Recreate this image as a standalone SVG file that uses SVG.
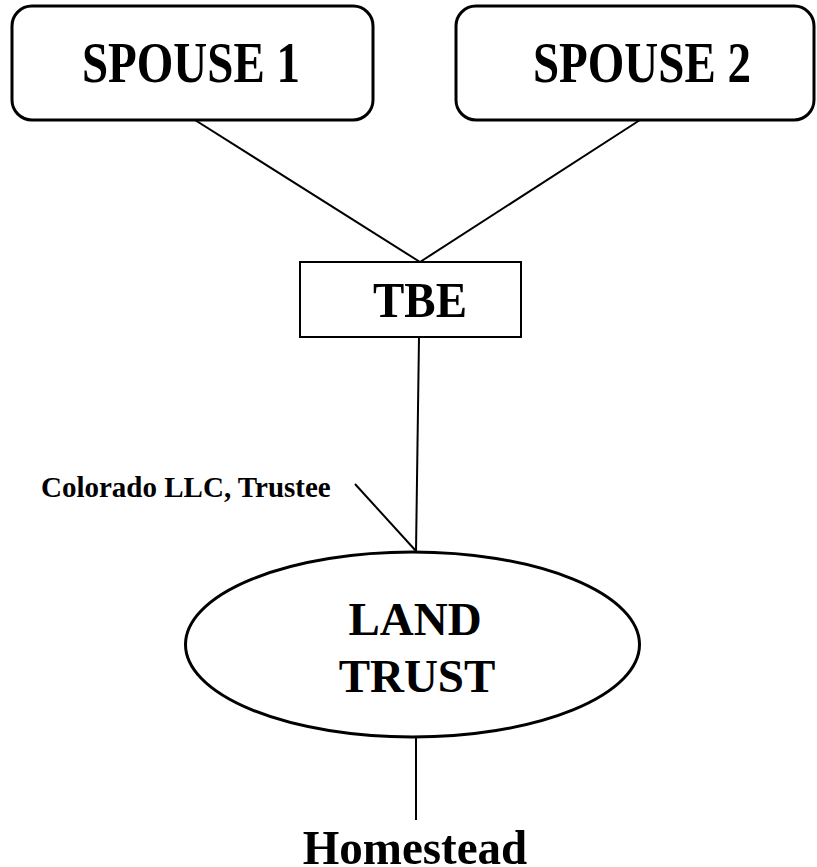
<svg xmlns="http://www.w3.org/2000/svg" width="817" height="867" viewBox="0 0 817 867">
  <style>
    .box { fill: #fff; stroke: #000; stroke-width: 3; }
    .rect { fill: #fff; stroke: #000; stroke-width: 2; }
    .lbl { font-family: "Liberation Serif", "Times New Roman", serif; font-weight: bold; fill: #000; text-anchor: middle; }
    .big { font-size: 47px; }
    .small { font-size: 29px; text-anchor: start; }
    .conn line { stroke: #000; stroke-width: 2; }
  </style>
  <rect width="817" height="867" fill="#fff"/>

  <!-- connectors -->
  <g id="connectors" class="conn">
    <line x1="195" y1="120" x2="420" y2="262"/>
    <line x1="640" y1="120" x2="420" y2="262"/>
    <line x1="419" y1="337" x2="416" y2="552"/>
    <line x1="355" y1="484" x2="416" y2="551"/>
    <line x1="416" y1="737" x2="416" y2="820"/>
  </g>

  <!-- spouse 1 -->
  <g id="spouse1">
    <rect class="box" x="12" y="6" width="361" height="114" rx="20" ry="20"/>
    <g transform="translate(191 82) scale(1 1.2)">
      <text class="lbl big" x="0" y="0">SPOUSE 1</text>
    </g>
  </g>

  <!-- spouse 2 -->
  <g id="spouse2">
    <rect class="box" x="456" y="6" width="358" height="114" rx="20" ry="20"/>
    <g transform="translate(642 82) scale(1 1.2)">
      <text class="lbl big" x="0" y="0">SPOUSE 2</text>
    </g>
  </g>

  <!-- tenancy by the entirety -->
  <g id="tbe">
    <rect class="rect" x="300" y="262" width="221" height="75"/>
    <g transform="translate(420 317) scale(1 1.1)">
      <text class="lbl big" x="0" y="0">TBE</text>
    </g>
  </g>

  <!-- trustee label -->
  <g id="trustee">
    <text class="lbl small" x="41" y="497">Colorado LLC, Trustee</text>
  </g>

  <!-- land trust -->
  <g id="landtrust">
    <ellipse class="box" cx="412.5" cy="644.5" rx="227" ry="92.5"/>
    <text class="lbl big" x="415" y="635">LAND</text>
    <text class="lbl big" x="417" y="692">TRUST</text>
  </g>

  <!-- homestead -->
  <g id="homestead">
    <g transform="translate(415 864) scale(1 1.05)">
      <text class="lbl big" x="0" y="0">Homestead</text>
    </g>
  </g>
</svg>
